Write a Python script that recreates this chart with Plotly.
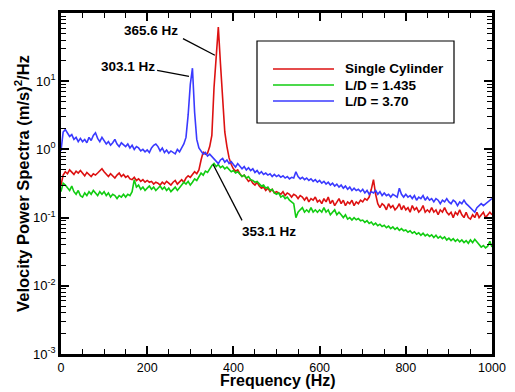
import numpy as np
import plotly.graph_objects as go

# ---------------- data ----------------
freq = np.arange(0, 1001, 5)  # Hz, 5 Hz grid

single_cyl = [
    0.30, 0.42, 0.47, 0.44, 0.50, 0.46, 0.43, 0.48, 0.45, 0.49,
    0.44, 0.41, 0.46, 0.43, 0.40, 0.44, 0.42, 0.45, 0.48, 0.52,
    0.47, 0.43, 0.40, 0.44, 0.41, 0.38, 0.42, 0.45, 0.40, 0.43,
    0.39, 0.41, 0.37, 0.36, 0.39, 0.35, 0.37, 0.34, 0.36, 0.33,
    0.35, 0.33, 0.34, 0.31, 0.33, 0.32, 0.30, 0.33, 0.31, 0.34,
    0.32, 0.30, 0.33, 0.35, 0.31, 0.34, 0.36, 0.33, 0.38, 0.41,
    0.39, 0.43, 0.47, 0.44, 0.50, 0.70, 0.92, 0.85, 0.88, 1.10,
    1.6, 8.0, 25.0, 62.0, 18.0, 5.5, 1.8, 1.1, 0.75, 0.60,
    0.52, 0.48, 0.50, 0.44, 0.40, 0.42, 0.37, 0.34, 0.36, 0.32,
    0.30, 0.33, 0.29, 0.27, 0.28, 0.25, 0.27, 0.24, 0.26, 0.23,
    0.24, 0.23, 0.22, 0.24, 0.21, 0.23, 0.22, 0.20, 0.22, 0.21,
    0.19, 0.21, 0.20, 0.18, 0.20, 0.17, 0.19, 0.18, 0.20, 0.17,
    0.18, 0.16, 0.19, 0.17, 0.20, 0.16, 0.18, 0.15, 0.17, 0.19,
    0.16, 0.18, 0.15, 0.17, 0.16, 0.18, 0.15, 0.17, 0.16, 0.18,
    0.17, 0.19, 0.18, 0.20, 0.26, 0.36, 0.22, 0.16, 0.14, 0.16,
    0.15, 0.13, 0.16, 0.14, 0.15, 0.13, 0.14, 0.16, 0.13, 0.15,
    0.13, 0.14, 0.12, 0.15, 0.13, 0.14, 0.12, 0.13, 0.15, 0.12,
    0.13, 0.12, 0.14, 0.12, 0.13, 0.11, 0.13, 0.12, 0.14, 0.12,
    0.11, 0.12, 0.10, 0.12, 0.11, 0.13, 0.11, 0.10, 0.12, 0.10,
    0.095, 0.11, 0.10, 0.12, 0.10, 0.11, 0.12, 0.10, 0.11, 0.12,
    0.11,
]

ld_1435 = [
    0.24, 0.32, 0.30, 0.27, 0.25, 0.29, 0.24, 0.22, 0.25, 0.21,
    0.20, 0.23, 0.21, 0.24, 0.22, 0.25, 0.23, 0.21, 0.24, 0.22,
    0.24, 0.21, 0.23, 0.20, 0.22, 0.21, 0.19, 0.21, 0.20, 0.22,
    0.20, 0.22, 0.21, 0.24, 0.36, 0.28, 0.30, 0.26, 0.28, 0.25,
    0.27, 0.29, 0.26, 0.28, 0.25, 0.27, 0.29, 0.26, 0.28, 0.25,
    0.27, 0.24, 0.26, 0.28, 0.25, 0.27, 0.30, 0.33, 0.31, 0.34,
    0.30, 0.33, 0.37, 0.35, 0.40, 0.45, 0.42, 0.48, 0.46, 0.52,
    0.58, 0.62, 0.56, 0.60, 0.54, 0.57, 0.52, 0.55, 0.50, 0.47,
    0.49, 0.45, 0.47, 0.43, 0.40, 0.42, 0.38, 0.40, 0.36, 0.35,
    0.33, 0.34, 0.31, 0.29, 0.30, 0.27, 0.28, 0.25, 0.26, 0.23,
    0.22, 0.23, 0.20, 0.21, 0.19, 0.20, 0.18, 0.17, 0.16, 0.10,
    0.12, 0.13, 0.14, 0.12, 0.13, 0.12, 0.14, 0.12, 0.13, 0.12,
    0.13, 0.12, 0.14, 0.12, 0.13, 0.11, 0.12, 0.13, 0.11, 0.12,
    0.11, 0.10, 0.11, 0.095, 0.10, 0.092, 0.10, 0.093, 0.097, 0.09,
    0.092, 0.085, 0.09, 0.082, 0.086, 0.078, 0.083, 0.076, 0.08, 0.074,
    0.077, 0.071, 0.075, 0.069, 0.073, 0.067, 0.071, 0.065, 0.069, 0.064,
    0.066, 0.061, 0.064, 0.059, 0.062, 0.057, 0.060, 0.055, 0.059, 0.054,
    0.057, 0.053, 0.056, 0.051, 0.055, 0.050, 0.053, 0.049, 0.052, 0.047,
    0.050, 0.046, 0.049, 0.045, 0.048, 0.044, 0.047, 0.043, 0.046, 0.042,
    0.047, 0.043, 0.048, 0.044, 0.040, 0.037, 0.039, 0.036, 0.038, 0.045,
    0.037,
]

ld_370 = [
    0.95, 1.80, 1.95, 1.70, 1.55, 1.65, 1.40, 1.50, 1.30, 1.45,
    1.30, 1.40, 1.25, 1.50, 1.35, 1.60, 1.75, 1.45, 1.30, 1.50,
    1.35, 1.20, 1.30, 1.15, 1.25, 1.40, 1.20, 1.10, 1.25, 1.15,
    1.10, 1.20, 1.05, 1.15, 1.00, 1.10, 1.05, 0.95, 1.00, 0.92,
    0.98, 0.90, 1.05, 1.15, 1.20, 1.10, 0.95, 1.05, 0.90, 0.98,
    0.88, 0.95, 0.90, 0.86, 1.00, 0.92, 1.05, 1.20, 1.50, 3.20,
    9.0, 15.5, 3.5, 1.4, 1.05, 0.95, 0.85, 0.90, 0.80, 0.85,
    0.78, 0.72, 0.66, 0.62, 0.70, 0.74, 0.65, 0.70, 0.62, 0.66,
    0.60, 0.55, 0.62, 0.57, 0.52, 0.56, 0.50, 0.54, 0.49, 0.52,
    0.46, 0.49, 0.44, 0.47, 0.43, 0.45, 0.42, 0.44, 0.40, 0.43,
    0.40, 0.42, 0.39, 0.41, 0.38, 0.40, 0.37, 0.39, 0.38, 0.47,
    0.40, 0.37, 0.39, 0.36, 0.38, 0.35, 0.37, 0.34, 0.36, 0.33,
    0.35, 0.32, 0.34, 0.31, 0.33, 0.30, 0.32, 0.29, 0.31, 0.28,
    0.30, 0.27, 0.29, 0.26, 0.28, 0.25, 0.27, 0.25, 0.26, 0.24,
    0.26, 0.23, 0.25, 0.22, 0.24, 0.23, 0.25, 0.22, 0.24, 0.21,
    0.23, 0.21, 0.22, 0.20, 0.22, 0.21, 0.20, 0.27, 0.22, 0.20,
    0.22, 0.20, 0.21, 0.19, 0.21, 0.18, 0.20, 0.19, 0.21, 0.18,
    0.20, 0.18, 0.19, 0.17, 0.19, 0.18, 0.16, 0.18, 0.17, 0.19,
    0.17, 0.16, 0.18, 0.17, 0.15, 0.17, 0.16, 0.18, 0.16, 0.15,
    0.14, 0.13, 0.12, 0.14, 0.15, 0.16, 0.15, 0.16, 0.17, 0.18,
    0.19,
]

series_names = ["Single Cylinder", "L/D = 1.435", "L/D = 3.70"]
series_colors = ["#dd1111", "#11cc11", "#3a3aff"]

x_tick_vals = [0, 200, 400, 600, 800, 1000]
y_tick_vals = [1e-3, 1e-2, 1e-1, 1e0, 1e1, 1e2]
y_tick_text = ["10<sup>-3</sup>", "10<sup>-2</sup>", "10<sup>-1</sup>",
               "10<sup>0</sup>", "10<sup>1</sup>", "10<sup>2</sup>"]

# peak labels: text, text position (Hz, value), leader line start/end (Hz, value)
peak_labels = ["365.6 Hz", "303.1 Hz", "353.1 Hz"]
label_pos = [(208, 56.0), (155, 16.5), (483, 0.063)]
leader_from = [(283, 42.0), (223, 14.4), (353, 0.60)]
leader_to = [(357, 24.0), (297, 11.8), (420, 0.091)]

FONT = "Arial, Liberation Sans, Helvetica, sans-serif"

fig = go.Figure()
for name, vals, col in zip(series_names, [single_cyl, ld_1435, ld_370], series_colors):
    fig.add_trace(go.Scatter(x=freq, y=vals, mode="lines", name=name,
                             line=dict(color=col, width=1.6), showlegend=False))

# leader lines
for (x0, y0), (x1, y1) in zip(leader_from, leader_to):
    fig.add_trace(go.Scatter(x=[x0, x1], y=[y0, y1], mode="lines",
                             line=dict(color="black", width=1.3),
                             showlegend=False, hoverinfo="skip"))

annotations = []
for txt, (lx, ly) in zip(peak_labels, label_pos):
    annotations.append(dict(x=lx, y=np.log10(ly), xref="x", yref="y", text="<b>%s</b>" % txt,
                            showarrow=False, font=dict(family=FONT, size=13.5, color="black")))

# page body has an 8px margin: the figure's origin sits at (8, 8) in the window
OFF = 8
W, H = 515 - OFF, 392 - OFF
PL, PR, PT, PB = 61, 492, 13, 354          # plot area in window pixels
L, R, T, B = PL - OFF, 515 - PR, PT - OFF, 392 - PB
pw, ph = PR - PL, PB - PT


def px2paper(px, py):
    return (px - PL) / pw, 1 - (py - PT) / ph


shapes = []
bx0, by0 = px2paper(257, 41)
bx1, by1 = px2paper(454, 123)
shapes.append(dict(type="rect", xref="paper", yref="paper", x0=bx0, y0=by1, x1=bx1, y1=by0,
                   line=dict(color="black", width=1.2), fillcolor="white", layer="below"))
for i, (name, col) in enumerate(zip(series_names, series_colors)):
    yy = 69 + 16 * i
    lx0, ly = px2paper(273, yy)
    lx1, _ = px2paper(334, yy)
    shapes.append(dict(type="line", xref="paper", yref="paper", x0=lx0, x1=lx1, y0=ly, y1=ly,
                       line=dict(color=col, width=1.6)))
    tx, _ = px2paper(343, yy)
    annotations.append(dict(x=tx, y=ly, xref="paper", yref="paper", text="<b>%s</b>" % name,
                            showarrow=False, xanchor="left", yanchor="middle",
                            font=dict(family=FONT, size=13.5, color="black")))

# x-axis title placed as a paper annotation (centre at window y = 380)
xt_x, xt_y = px2paper(278, 380)
annotations.append(dict(x=xt_x, y=xt_y, xref="paper", yref="paper", text="<b>Frequency (Hz)</b>",
                        showarrow=False, xanchor="center", yanchor="middle",
                        font=dict(family=FONT, size=16, color="black")))

minor_y = [m * 10.0 ** e for e in range(-3, 2) for m in range(2, 10)]

fig.update_layout(
    width=W, height=H,
    margin=dict(l=L, r=R, t=T, b=B, autoexpand=False),
    paper_bgcolor="white", plot_bgcolor="white",
    font=dict(family=FONT, size=13, color="black"),
    shapes=shapes, annotations=annotations,
    showlegend=False,
    xaxis=dict(range=[0, 1000], tickmode="array", tickvals=x_tick_vals, automargin=False,
               ticks="inside", ticklen=8, tickwidth=1.5, tickcolor="black",
               showline=True, linecolor="black", linewidth=2.5, mirror="allticks",
               showgrid=False, zeroline=False,
               minor=dict(dtick=50, ticks="inside", ticklen=5, tickwidth=1, tickcolor="black", showgrid=False),
               tickfont=dict(size=12.5)),
    yaxis=dict(type="log", range=[-3, 2], tickmode="array", tickvals=y_tick_vals, ticktext=y_tick_text,
               automargin=False,
               ticks="inside", ticklen=8, tickwidth=1.5, tickcolor="black",
               showline=True, linecolor="black", linewidth=2.5, mirror="allticks",
               showgrid=False, zeroline=False,
               minor=dict(tickmode="array", tickvals=minor_y, ticks="inside", ticklen=5,
                          tickwidth=1, tickcolor="black", showgrid=False),
               tickfont=dict(size=13),
               title=dict(text="<b>Velocity Power Spectra (m/s)<sup>2</sup>/Hz</b>", font=dict(size=16.5), standoff=0)),
)

fig.write_html("out.html")
